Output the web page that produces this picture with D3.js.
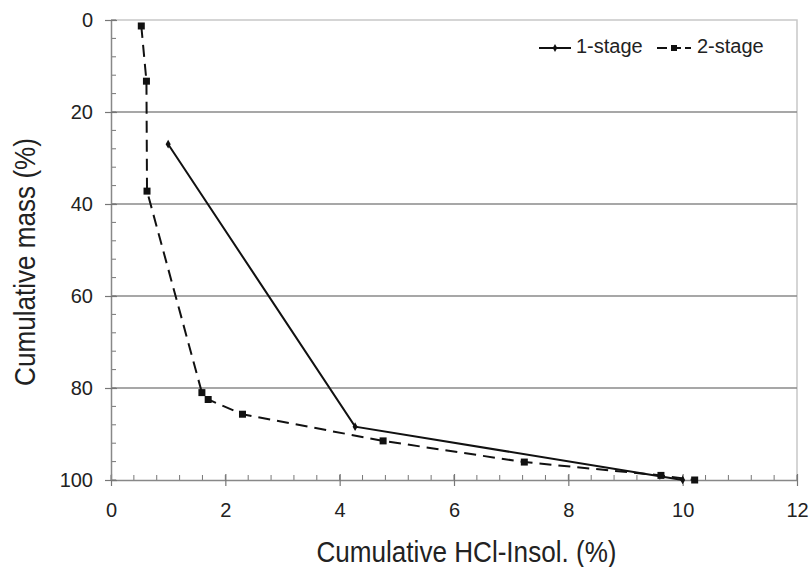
<!DOCTYPE html>
<html><head><meta charset="utf-8">
<script src="https://cdn.jsdelivr.net/npm/d3@7"></script>
<style>body{margin:0;background:#fff}svg{display:block}text{font-family:"Liberation Sans",Arial,sans-serif;fill:#222}</style>
</head><body><div id="c"></div>
<script>
const seriesNames = ["1-stage", "2-stage"];
const stage1X = [1.0, 4.27, 10.0];
const stage1Y = [27, 88.4, 100];
const stage2X = [0.53, 0.62, 0.63, 1.59, 1.70, 2.30, 4.76, 7.23, 9.62, 10.21];
const stage2Y = [1.3, 13.3, 37.2, 81.0, 82.5, 85.7, 91.5, 96.1, 99.0, 100];
const xTicks = [0, 2, 4, 6, 8, 10, 12];
const yTicks = [0, 20, 40, 60, 80, 100];
const xTitle = "Cumulative HCl-Insol. (%)";
const yTitle = "Cumulative mass (%)";

const W = 811, H = 567;
const m = {l: 111, r: 14, t: 20, b: 87};
const svg = d3.select("#c").append("svg").attr("width", W).attr("height", H);
const x = d3.scaleLinear().domain([0, 12]).range([m.l, W - m.r]);
const y = d3.scaleLinear().domain([0, 100]).range([m.t, H - m.b]);
const FONT = '"Liberation Sans",Arial,sans-serif';

// frame (top & right)
svg.append("path").attr("d", `M${x(0)},${y(0)}H${x(12)}V${y(100)}`)
  .attr("fill", "none").attr("stroke", "#c8c8c8").attr("stroke-width", 1.5);
// gridlines
svg.append("g").selectAll("line").data(yTicks.filter(d => d > 0 && d < 100)).join("line")
  .attr("x1", x(0)).attr("x2", x(12)).attr("y1", d => y(d)).attr("y2", d => y(d))
  .attr("stroke", "#8a8a8a").attr("stroke-width", 1.3);

// minor ticks
const xMinor = d3.range(0, 12.001, 0.4);
svg.append("g").selectAll("line").data(xMinor).join("line")
  .attr("x1", d => x(d)).attr("x2", d => x(d)).attr("y1", y(100)).attr("y2", y(100) - 5)
  .attr("stroke", "#777").attr("stroke-width", 1);
const yMinor = d3.range(0, 100.001, 4);
svg.append("g").selectAll("line").data(yMinor).join("line")
  .attr("x1", x(0)).attr("x2", x(0) + 5).attr("y1", d => y(d)).attr("y2", d => y(d))
  .attr("stroke", "#777").attr("stroke-width", 1);

// axes
const xAxis = d3.axisBottom(x).tickValues(xTicks).tickFormat(d3.format("d")).tickSizeInner(7).tickSizeOuter(0).tickPadding(16);
const gx = svg.append("g").attr("transform", `translate(0,${y(100)})`).call(xAxis);
gx.selectAll(".tick line").attr("y1", -6).attr("y2", 6);
const yAxis = d3.axisLeft(y).tickValues(yTicks).tickFormat(d3.format("d")).tickSizeInner(7).tickSizeOuter(0).tickPadding(11);
const gy = svg.append("g").attr("transform", `translate(${x(0)},0)`).call(yAxis);
gy.selectAll(".tick line").attr("x1", -6).attr("x2", 6);
[gx, gy].forEach(g => {
  g.select(".domain").attr("stroke", "#888").attr("stroke-width", 1.5);
  g.selectAll(".tick line").attr("stroke", "#777").attr("stroke-width", 1.2);
  g.selectAll(".tick text").attr("font-size", 20).attr("fill", "#222").attr("font-family", FONT);
});

// titles
svg.append("text").attr("transform", `translate(${(318 + 615) / 2},562) scale(0.9,1)`).attr("text-anchor", "middle")
  .attr("font-size", 29).text(xTitle);
svg.append("text").attr("transform", `translate(35,262) rotate(-90) scale(0.9,1)`).attr("text-anchor", "middle")
  .attr("font-size", 29).text(yTitle);

// lines
const line = d3.line().x(d => x(d[0])).y(d => y(d[1]));
const s1 = stage1X.map((v, i) => [v, stage1Y[i]]);
const s2 = stage2X.map((v, i) => [v, stage2Y[i]]);
svg.append("path").attr("d", line(s2)).attr("fill", "none").attr("stroke", "#111")
  .attr("stroke-width", 2).attr("stroke-dasharray", "12,7");
svg.append("path").attr("d", line(s1)).attr("fill", "none").attr("stroke", "#111").attr("stroke-width", 2);
svg.append("g").selectAll("rect").data(s2).join("rect")
  .attr("x", d => x(d[0]) - 3.5).attr("y", d => y(d[1]) - 3.5).attr("width", 7).attr("height", 7).attr("fill", "#111");
svg.append("g").selectAll("path").data(s1).join("path")
  .attr("d", d3.symbol(d3.symbolDiamond, 22)).attr("transform", d => `translate(${x(d[0])},${y(d[1])})`).attr("fill", "#111");

// legend
const lg = svg.append("g");
lg.append("line").attr("x1", 539).attr("x2", 571).attr("y1", 48).attr("y2", 48).attr("stroke", "#111").attr("stroke-width", 2);
lg.append("path").attr("d", d3.symbol(d3.symbolDiamond, 18)).attr("transform", "translate(555,48)").attr("fill", "#111");
lg.append("text").attr("x", 576).attr("y", 53).attr("font-size", 20).text(seriesNames[0]);
lg.append("line").attr("x1", 657).attr("x2", 691).attr("y1", 48).attr("y2", 48).attr("stroke", "#111").attr("stroke-width", 2).attr("stroke-dasharray", "10,4");
lg.append("rect").attr("x", 671).attr("y", 45).attr("width", 6).attr("height", 6).attr("fill", "#111");
lg.append("text").attr("x", 697).attr("y", 53).attr("font-size", 20).text(seriesNames[1]);
</script></body></html>
